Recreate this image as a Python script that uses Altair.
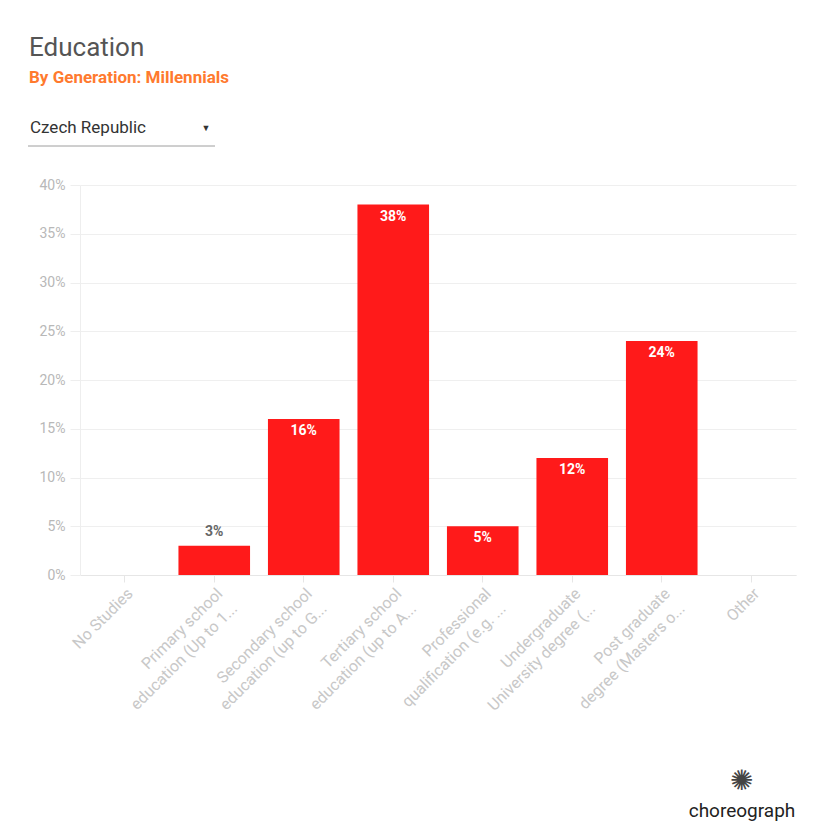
import altair as alt
import pandas as pd

categories = [
    "No Studies",
    "Primary school|education (Up to 1...",
    "Secondary school|education (up to G...",
    "Tertiary school|education (up to A...",
    "Professional|qualification (e.g. ...",
    "Undergraduate|University degree (...",
    "Post graduate|degree (Masters o...",
    "Other",
]
values = [0, 3, 16, 38, 5, 12, 24, 0]
y_ticks = [0, 5, 10, 15, 20, 25, 30, 35, 40]

title_text = "Education"
subtitle_text = "By Generation: Millennials"
dropdown_text = "Czech Republic"
logo_text = "choreograph"

df = pd.DataFrame({"cat": categories, "val": values})
df["lbl"] = df["val"].astype(str) + "%"

FONT = "Roboto"
RED = "#ff1a1a"

x_enc = alt.X(
    "cat:N",
    sort=categories,
    scale=alt.Scale(paddingInner=0.2, paddingOuter=0.1),
    axis=alt.Axis(
        title=None,
        labelAngle=-45,
        labelAlign="right",
        labelBaseline="top",
        labelExpr="split(datum.label, '|')",
        labelColor="#c8c8c8",
        labelFontSize=16,
        labelFont=FONT,
        labelLineHeight=21,
        labelPadding=3,
        tickColor="#e6e6e6",
        tickSize=7,
        domainColor="#e6e6e6",
        grid=False,
    ),
)
y_enc = alt.Y(
    "val:Q",
    scale=alt.Scale(domain=[0, 40]),
    axis=alt.Axis(
        title=None,
        values=y_ticks,
        labelExpr="datum.value + '%'",
        labelColor="#b8b8b8",
        labelFontSize=14,
        labelFont=FONT,
        labelPadding=5,
        tickColor="#eeeeee",
        tickSize=10,
        domainColor="#eeeeee",
        gridColor="#efefef",
    ),
)

base = alt.Chart(df)
bars = base.mark_bar(color=RED).encode(x=x_enc, y=y_enc)

inside = base.transform_filter("datum.val >= 4").mark_text(
    dy=12, color="white", fontWeight="bold", fontSize=14, font=FONT, baseline="middle"
).encode(x=alt.X("cat:N", sort=categories), y="val:Q", text="lbl:N")

above = base.transform_filter("datum.val > 0 && datum.val < 4").mark_text(
    dy=-14, color="#666666", fontWeight="bold", fontSize=14, font=FONT, baseline="middle"
).encode(x=alt.X("cat:N", sort=categories), y="val:Q", text="lbl:N")


def deco(text, x, y, **kw):
    return alt.Chart(pd.DataFrame({"t": [text]})).mark_text(
        font=FONT, baseline="middle", **kw
    ).encode(x=alt.value(x), y=alt.value(y), text="t:N")


title = deco(title_text, -51, -137, align="left", fontSize=26, color="#555555")
subtitle = deco(subtitle_text, -51, -107, align="left", fontSize=17,
                fontWeight="bold", color="#ff7a2e")
dropdown = deco(dropdown_text, -50, -57, align="left", fontSize=17, color="#333333")
arrow = deco("▼", 126, -57, align="center", fontSize=9, color="#333333")
underline = alt.Chart(pd.DataFrame({"t": [0]})).mark_rule(color="#9e9e9e").encode(
    x=alt.value(-52), x2=alt.value(135), y=alt.value(-39)
)
logo_icon = deco("✺", 661, 597, align="center", fontSize=28, color="#444444")
logo = deco(logo_text, 662, 626, align="center", fontSize=19, color="#222222")

chart = alt.layer(
    bars, inside, above, title, subtitle, dropdown, arrow, underline, logo_icon, logo
).properties(
    width=716,
    height=390,
    padding={"left": 19, "top": 27, "right": 5, "bottom": 5},
    background="white",
).configure_view(stroke="transparent", strokeWidth=0)

chart.save("out.html", embed_options={"renderer": "svg", "actions": False})
